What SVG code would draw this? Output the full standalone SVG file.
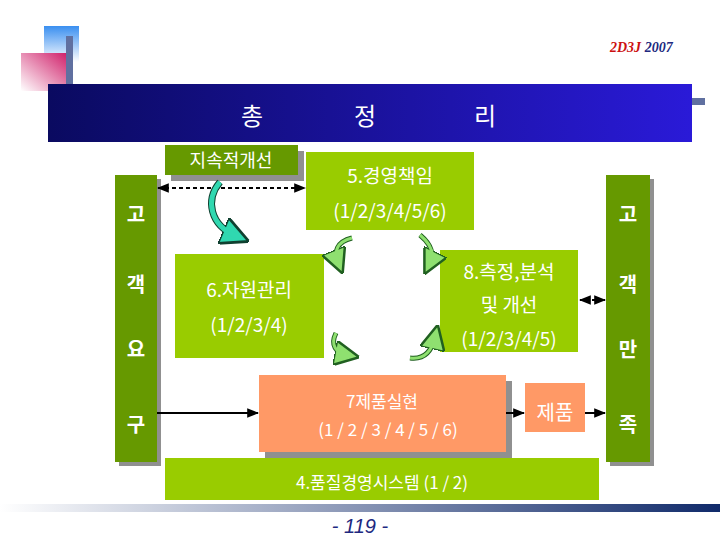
<svg xmlns="http://www.w3.org/2000/svg" width="720" height="540" viewBox="0 0 720 540">
<defs>
<linearGradient id="bl" x1="0" y1="0" x2="1" y2="0"><stop offset="0" stop-color="#0a0a60"/><stop offset="1" stop-color="#2a1ad8"/></linearGradient>
<linearGradient id="bot" x1="0" y1="0" x2="1" y2="0"><stop offset="0" stop-color="#ffffff"/><stop offset="1" stop-color="#102a6a"/></linearGradient>
<linearGradient id="sq1" x1="0" y1="0" x2="0" y2="1"><stop offset="0" stop-color="#3a8ff0"/><stop offset="1" stop-color="#ffffff"/></linearGradient>
<linearGradient id="sq2" x1="1" y1="0" x2="0" y2="1"><stop offset="0" stop-color="#d0206a"/><stop offset="1" stop-color="#ffffff"/></linearGradient>
<marker id="ah" viewBox="0 0 10 10" refX="9" refY="5" markerWidth="6" markerHeight="6" orient="auto-start-reverse"><path d="M0,1 L10,5 L0,9 z" fill="#000"/></marker>
<marker id="ga" viewBox="0 0 10 10" refX="5" refY="5" markerWidth="5" markerHeight="5" orient="auto"><path d="M0,0 L10,5 L0,10 z" fill="#8fe070" stroke="#206020" stroke-width="1"/></marker>
<marker id="ta" viewBox="0 0 10 10" refX="5" refY="5" markerWidth="4" markerHeight="4" orient="auto"><path d="M0,0 L10,5 L0,10 z" fill="#30d8b0" stroke="#104030" stroke-width="1"/></marker>
</defs>
<style>
.t{font-family:"Noto Sans CJK KR","Liberation Sans",sans-serif;fill:#fff;text-anchor:middle}
.sh{fill:#909090}
.dg{fill:#669900}
.lg{fill:#99cc00}
.or{fill:#ff9966}
.v{font-size:20px;font-weight:bold}
</style>
<g id="logo">
<rect x="44" y="26" width="35" height="36" fill="url(#sq1)"/>
<rect x="21" y="53" width="46" height="38" fill="url(#sq2)"/>
<rect x="66" y="36" width="7" height="50" fill="#6070a0"/>
<rect x="48" y="98" width="657" height="7" fill="#6070a0"/>
</g>
<text x="610" y="52" font-family="Liberation Serif,serif" font-style="italic" font-weight="bold" font-size="14" fill="#cc1010">2D3J <tspan fill="#202880">2007</tspan></text>
<g id="title"><rect x="48" y="84" width="644" height="58" fill="url(#bl)"/>
<text class="t" y="125" font-size="24"><tspan x="252">총</tspan><tspan x="365">정</tspan><tspan x="485">리</tspan></text></g>
<g id="left"><rect class="sh" x="119" y="179" width="42" height="287"/><rect class="dg" x="115" y="175" width="42" height="287"/>
<text class="t v" x="136"><tspan x="136" y="222">고</tspan><tspan x="136" y="292">객</tspan><tspan x="136" y="357">요</tspan><tspan x="136" y="432">구</tspan></text></g>
<g id="right"><rect class="sh" x="610" y="179" width="44" height="287"/><rect class="dg" x="606" y="175" width="44" height="287"/>
<text class="t v"><tspan x="628" y="222">고</tspan><tspan x="628" y="292">객</tspan><tspan x="628" y="357">만</tspan><tspan x="628" y="432">족</tspan></text></g>
<g id="kaizen"><rect class="sh" x="171" y="151" width="133" height="30"/><rect class="dg" x="165" y="145" width="133" height="30"/>
<text class="t" x="231" y="167" font-size="18">지속적개선</text></g>
<g id="n5"><rect class="lg" x="306" y="152" width="168" height="78"/>
<text class="t" x="390" y="183" font-size="19">5.경영책임</text><text class="t" x="390" y="218" font-size="19">(1/2/3/4/5/6)</text></g>
<g id="n6"><rect class="lg" x="175" y="254" width="149" height="104"/>
<text class="t" x="249" y="297" font-size="19">6.자원관리</text><text class="t" x="249" y="332" font-size="19">(1/2/3/4)</text></g>
<g id="n8"><rect class="lg" x="440" y="250" width="138" height="102"/>
<text class="t" x="509" y="279" font-size="19">8.측정,분석</text><text class="t" x="509" y="312" font-size="19">및 개선</text><text class="t" x="509" y="346" font-size="19">(1/2/3/4/5)</text></g>
<g id="n7"><rect class="sh" x="265" y="381" width="247" height="77"/><rect class="or" x="259" y="375" width="247" height="77"/>
<text class="t" x="382" y="408" font-size="17">7제품실현</text><text class="t" x="388" y="436" font-size="17">(1 / 2 / 3 / 4 / 5 / 6)</text></g>
<g id="prod"><rect class="or" x="525" y="383" width="60" height="49"/><text class="t" x="555" y="420" font-size="20">제품</text></g>
<g id="n4"><rect class="lg" x="165" y="458" width="434" height="42"/><text class="t" x="382" y="489" font-size="17">4.품질경영시스템 (1 / 2)</text></g>
<rect x="0" y="504" width="720" height="8" fill="url(#bot)"/>
<text x="360" y="533" text-anchor="middle" font-family="Liberation Sans,sans-serif" font-style="italic" font-size="20" fill="#202880">- 119 -</text>
<g id="connectors" fill="none">
<line x1="158" y1="188" x2="305" y2="188" stroke="#000" stroke-width="2" stroke-dasharray="4,3" marker-start="url(#ah)" marker-end="url(#ah)"/>
<line x1="580" y1="300" x2="605" y2="300" stroke="#000" stroke-width="2" stroke-dasharray="3,3" marker-start="url(#ah)" marker-end="url(#ah)"/>
<line x1="157" y1="413" x2="258" y2="413" stroke="#000" stroke-width="2" marker-end="url(#ah)"/>
<line x1="506" y1="413" x2="524" y2="413" stroke="#000" stroke-width="2" marker-end="url(#ah)"/>
<line x1="585" y1="413" x2="605" y2="413" stroke="#000" stroke-width="2" marker-end="url(#ah)"/>
<path d="M220,182 C205,200 210,225 236,236" stroke="#104030" stroke-width="7" marker-end="url(#ta)"/>
<path d="M220,182 C205,200 210,225 236,236" stroke="#30d8b0" stroke-width="5"/>
<path d="M352,238 C336,242 334,252 338,262" stroke="#206020" stroke-width="5" marker-end="url(#ga)"/>
<path d="M352,238 C336,242 334,252 338,262" stroke="#8fe070" stroke-width="3"/>
<path d="M420,235 C432,245 434,255 430,263" stroke="#206020" stroke-width="5" marker-end="url(#ga)"/>
<path d="M420,235 C432,245 434,255 430,263" stroke="#8fe070" stroke-width="3"/>
<path d="M336,333 C330,345 336,353 347,355" stroke="#206020" stroke-width="5" marker-end="url(#ga)"/>
<path d="M336,333 C330,345 336,353 347,355" stroke="#8fe070" stroke-width="3"/>
<path d="M410,358 C425,360 432,350 435,337" stroke="#206020" stroke-width="5" marker-end="url(#ga)"/>
<path d="M410,358 C425,360 432,350 435,337" stroke="#8fe070" stroke-width="3"/>
</g>
</svg>
